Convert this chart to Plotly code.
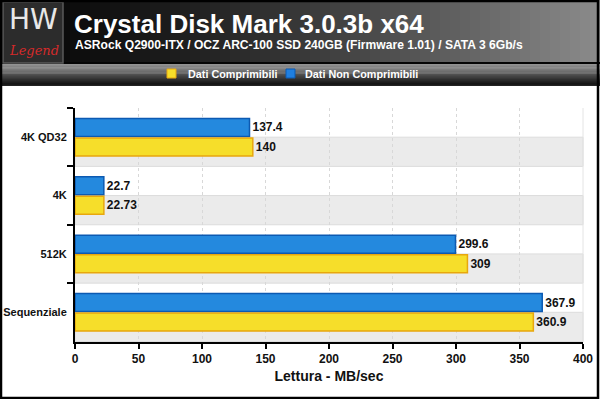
import plotly.graph_objects as go

# ---- data ----
categories = ["4K QD32", "4K", "512K", "Sequenziale"]
non_comprimibili = [137.4, 22.7, 299.6, 367.9]
comprimibili = [140, 22.73, 309, 360.9]
series_names = ["Dati Non Comprimibili", "Dati Comprimibili"]
x_ticks = [0, 50, 100, 150, 200, 250, 300, 350, 400]
title_text = "Crystal Disk Mark 3.0.3b x64"
subtitle_text = "ASRock Q2900-ITX / OCZ ARC-100 SSD 240GB (Firmware 1.01) / SATA 3 6Gb/s"
x_title = "Lettura - MB/sec"

W, H = 600, 399
ML, MR, MT, MB = 75, 17, 108, 57
PW, PH = W - ML - MR, H - MT - MB

BLUE, BLUE_LINE = "#2489de", "#0c5ab2"
YELLOW, YELLOW_LINE = "#f6de2a", "#e8a70e"


def px(x):
    return (x - ML) / PW


def py(y):
    return (H - MB - y) / PH


BOLD = dict(family="Liberation Sans, Arial, sans-serif", weight="bold")

fig = go.Figure()
fig.add_trace(go.Bar(
    y=categories, x=non_comprimibili, orientation="h", name=series_names[0],
    marker=dict(color=BLUE, line=dict(color=BLUE_LINE, width=1.5)),
    texttemplate="%{x}", textposition="outside", cliponaxis=False,
    textfont=dict(size=12, color="#111", **BOLD),
))
fig.add_trace(go.Bar(
    y=categories, x=comprimibili, orientation="h", name=series_names[1],
    marker=dict(color=YELLOW, line=dict(color=YELLOW_LINE, width=1.5)),
    texttemplate="%{x}", textposition="outside", cliponaxis=False,
    textfont=dict(size=12, color="#111", **BOLD),
))

shapes = []
# alternating half-band shading in the plot area
for i in range(len(categories)):
    shapes.append(dict(type="rect", xref="paper", yref="y", x0=0, x1=1,
                       y0=i, y1=i + 0.5, fillcolor="#ebebeb",
                       line=dict(color="#dcdcdc", width=1), layer="below"))
# right edge of plot area
shapes.append(dict(type="line", xref="paper", yref="paper", x0=1, x1=1, y0=0, y1=1,
                   line=dict(color="#e4e4e4", width=1), layer="below"))

# header gradient (dark -> gray, left -> right)
N = 60
for k in range(N):
    x0 = k * W / N
    x1 = (k + 1) * W / N + 0.6
    t = (k + 0.5) / N
    c = int(6 + 134 * t ** 1.4)
    shapes.append(dict(type="rect", xref="paper", yref="paper",
                       x0=px(x0), x1=px(x1), y0=py(62), y1=py(0),
                       fillcolor=f"rgb({c},{c},{c})", line=dict(width=0), layer="above"))
# legend band (vertical gradient, gray top -> black bottom)
shapes.append(dict(type="rect", xref="paper", yref="paper", x0=px(0), x1=px(W),
                   y0=py(64), y1=py(62), fillcolor="#050505", line=dict(width=0)))
M = 20
for k in range(M):
    y0 = 64 + k * 21 / M
    y1 = 64 + (k + 1) * 21 / M + 0.4
    t = (k + 0.5) / M
    c = int(150 - 138 * t)
    shapes.append(dict(type="rect", xref="paper", yref="paper",
                       x0=px(0), x1=px(W), y0=py(y1), y1=py(y0),
                       fillcolor=f"rgb({c},{c},{c})", line=dict(width=0)))
shapes.append(dict(type="rect", xref="paper", yref="paper", x0=px(0), x1=px(W),
                   y0=py(86), y1=py(84.5), fillcolor="#222", line=dict(width=0)))
# legend swatches
for xs, col, lc in [(167, YELLOW, YELLOW_LINE), (286, "#1f7fe0", "#0c5ab2")]:
    shapes.append(dict(type="rect", xref="paper", yref="paper",
                       x0=px(xs), x1=px(xs + 9), y0=py(78), y1=py(69),
                       fillcolor=col, line=dict(color=lc, width=1)))
# logo box
shapes.append(dict(type="rect", xref="paper", yref="paper", x0=px(3), x1=px(63),
                   y0=py(63), y1=py(2), fillcolor="#2c2c2c",
                   line=dict(color="#5a5a5a", width=1.5)))
# outer frame
shapes.append(dict(type="rect", xref="paper", yref="paper", x0=px(1), x1=px(598),
                   y0=py(398), y1=py(1), fillcolor="rgba(0,0,0,0)",
                   line=dict(color="#000", width=2.5)))

annotations = [
    dict(text=title_text, xref="paper", yref="paper", x=px(72), y=py(24),
         xanchor="left", yanchor="middle", showarrow=False,
         font=dict(size=26, color="white", **BOLD)),
    dict(text=subtitle_text, xref="paper", yref="paper", x=px(73), y=py(45),
         xanchor="left", yanchor="middle", showarrow=False,
         font=dict(size=12.1, color="white", **BOLD)),
    dict(text=series_names[1], xref="paper", yref="paper", x=px(186), y=py(73.5),
         xanchor="left", yanchor="middle", showarrow=False,
         font=dict(size=10.8, color="white", **BOLD)),
    dict(text=series_names[0], xref="paper", yref="paper", x=px(303), y=py(73.5),
         xanchor="left", yanchor="middle", showarrow=False,
         font=dict(size=10.8, color="white", **BOLD)),
    dict(text="HW", xref="paper", yref="paper", x=px(33), y=py(19),
         xanchor="center", yanchor="middle", showarrow=False,
         font=dict(size=28, color="#e8e8e8", family="DejaVu Sans, sans-serif", weight="normal")),
    dict(text="<i>Legend</i>", xref="paper", yref="paper", x=px(34), y=py(50),
         xanchor="center", yanchor="middle", showarrow=False,
         font=dict(size=13, color="#d42a2a", family="DejaVu Serif, serif")),
]

fig.update_layout(
    width=W, height=H,
    margin=dict(l=ML, r=MR, t=MT, b=MB, pad=0, autoexpand=False),
    paper_bgcolor="white", plot_bgcolor="white",
    barmode="group", bargap=0.33, bargroupgap=0.08,
    showlegend=False,
    xaxis=dict(range=[0, 400], tickvals=x_ticks, showgrid=True, automargin=False,
               gridcolor="#d8d8d8", griddash="dot", gridwidth=1,
               zeroline=False, showline=True, linecolor="black", linewidth=2,
               ticks="outside", ticklen=5, tickwidth=2, tickcolor="black",
               tickfont=dict(size=12, color="#111", **BOLD),
               title=dict(text=x_title, standoff=6,
                          font=dict(size=14, color="#111", **BOLD))),
    yaxis=dict(type="category", categoryorder="array", categoryarray=categories,
               autorange="reversed", tickson="boundaries", ticks="outside",
               automargin=False,
               ticklen=6, tickwidth=2, tickcolor="black", showgrid=False,
               showline=True, linecolor="black", linewidth=2,
               tickfont=dict(size=11, color="#111", **BOLD), ticklabelstandoff=4),
    shapes=shapes,
    annotations=annotations,
)

fig.write_html("out.html", config={"displayModeBar": False},
               post_script="document.body.style.margin='0';document.body.style.padding='0';")
